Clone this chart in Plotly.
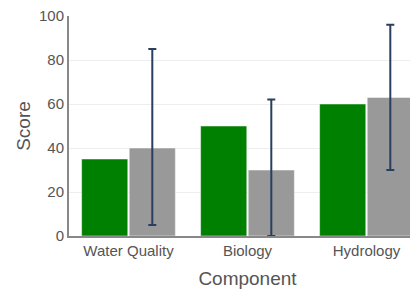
import plotly.graph_objects as go

categories = ["Water Quality", "Biology", "Hydrology"]
series_a = [35, 50, 60]
series_b = [40, 30, 63]
err_plus = [45, 32, 33]
err_minus = [35, 30, 33]
y_ticks = [0, 20, 40, 60, 80, 100]

fig = go.Figure()
fig.add_trace(go.Bar(x=categories, y=series_a, marker_color="#008000", name="A"))
fig.add_trace(go.Bar(
    x=categories, y=series_b, marker_color="#999999", name="B",
    error_y=dict(type="data", array=err_plus, arrayminus=err_minus,
                 color="#2a3f5f", thickness=2, width=4),
))

fig.update_layout(
    template="plotly_white",
    width=418, height=290,
    margin=dict(l=61, r=0, t=8, b=62),
    barmode="group", bargap=0.2, bargroupgap=0.03,
    showlegend=False,
    font=dict(family="Arial, Liberation Sans, sans-serif", color="#555555"),
    plot_bgcolor="white", paper_bgcolor="white",
)
fig.update_xaxes(
    title=dict(text="Component", font=dict(size=19), standoff=14),
    tickfont=dict(size=15),
    automargin=False, ticklabeloverflow="allow",
    showline=True, linecolor="#888888", linewidth=2,
    showgrid=False,
)
fig.update_yaxes(
    title=dict(text="Score", font=dict(size=19), standoff=3),
    tickfont=dict(size=15),
    range=[0, 100], tickvals=y_ticks, automargin=False,
    ticklabeloverflow="allow",
    showline=True, linecolor="#888888", linewidth=2,
    gridcolor="#eeeeee", zeroline=False,
)

fig.write_html("out.html")
